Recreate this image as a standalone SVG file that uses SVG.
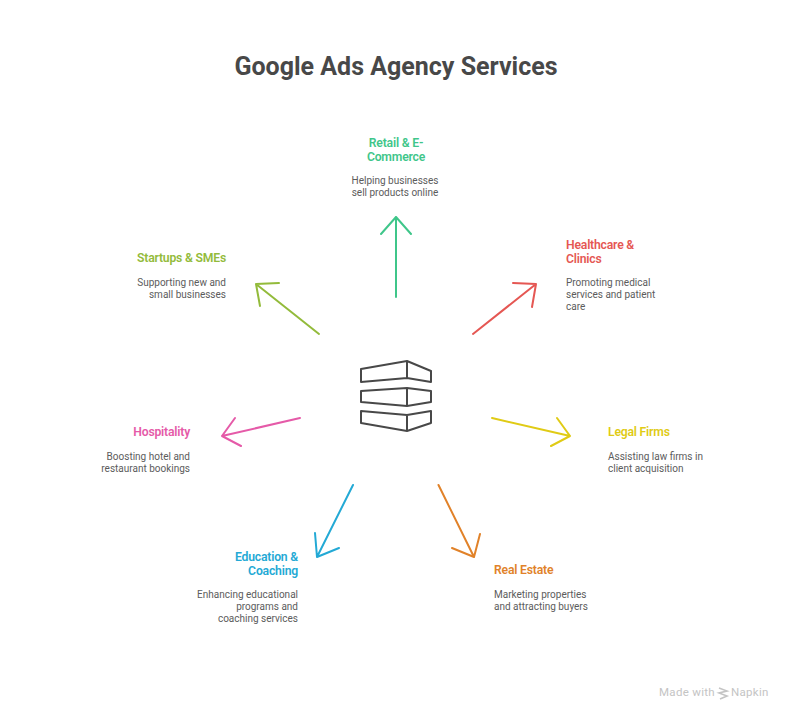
<svg xmlns="http://www.w3.org/2000/svg" width="792" height="720" viewBox="0 0 792 720">
<style>
text{font-family:Roboto,"Liberation Sans",sans-serif}
.t{font-size:25px;font-weight:700;fill:#484848;text-anchor:middle}
.h{font-size:12.2px;font-weight:600;letter-spacing:-.2px}
.d{font-size:10px;fill:#5c5c5c}
.m{text-anchor:middle}.e{text-anchor:end}
.a{fill:none;stroke-width:2;stroke-linecap:round;stroke-linejoin:round}
.i{fill:none;stroke:#484848;stroke-width:2;stroke-linejoin:round}
</style>
<rect width="792" height="720" fill="#fff"/>
<text class="t" x="396" y="75">Google Ads Agency Services</text>
<g id="connectors">
<path class="a" stroke="#3fc68a" d="M396 297V217M381 234L396 217L411 234"/>
<path class="a" stroke="#e55753" d="M473 334L536 284M513 283L536 284L532 307"/>
<path class="a" stroke="#e0cb15" d="M492 418L570 436M557 418L570 436L551 446"/>
<path class="a" stroke="#e18229" d="M438.500 485L474 557M452 548L474 557L480 534"/>
<path class="a" stroke="#23a9d5" d="M353 485L317 557M315 533L317 557L339 548"/>
<path class="a" stroke="#e55aa8" d="M300 418L222 436M235 418L222 436L241 446"/>
<path class="a" stroke="#93bb3b" d="M319 334L256 284M279 283L256 284L260 306"/>
</g>
<g id="center-icon">
<path class="i" d="M361 369L407 361L431 371V382L407 378L361 382ZM407 361V378"/>
<path class="i" d="M361 391L407 388L431 391V402L407 406L361 402ZM407 388V406"/>
<path class="i" d="M361 411L407 415L431 411V423L407 431L361 423ZM407 415V431"/>
</g>
<g id="retail">
<text class="h m" fill="#3fc68a"><tspan x="396" y="146.500">Retail &amp; E-</tspan><tspan x="396" y="161">Commerce</tspan></text>
<text class="d m"><tspan x="395" y="184">Helping businesses</tspan><tspan x="395" y="196">sell products online</tspan></text>
</g>
<g id="healthcare">
<text class="h" fill="#e55753"><tspan x="566" y="249">Healthcare &amp;</tspan><tspan x="566" y="263">Clinics</tspan></text>
<text class="d"><tspan x="566" y="286">Promoting medical</tspan><tspan x="566" y="298">services and patient</tspan><tspan x="566" y="310">care</tspan></text>
</g>
<g id="legal">
<text class="h" fill="#e0cb15" x="608" y="436">Legal Firms</text>
<text class="d"><tspan x="608" y="460">Assisting law firms in</tspan><tspan x="608" y="472">client acquisition</tspan></text>
</g>
<g id="real-estate">
<text class="h" fill="#e18229" x="494" y="574">Real Estate</text>
<text class="d"><tspan x="494" y="598">Marketing properties</tspan><tspan x="494" y="610">and attracting buyers</tspan></text>
</g>
<g id="education">
<text class="h e" fill="#23a9d5"><tspan x="298" y="561">Education &amp;</tspan><tspan x="298" y="575">Coaching</tspan></text>
<text class="d e"><tspan x="298" y="598">Enhancing educational</tspan><tspan x="298" y="610">programs and</tspan><tspan x="298" y="622">coaching services</tspan></text>
</g>
<g id="hospitality">
<text class="h e" fill="#e55aa8" x="190" y="436">Hospitality</text>
<text class="d e"><tspan x="190" y="460">Boosting hotel and</tspan><tspan x="190" y="472">restaurant bookings</tspan></text>
</g>
<g id="startups">
<text class="h e" fill="#93bb3b" x="226" y="262">Startups &amp; SMEs</text>
<text class="d e"><tspan x="226" y="286">Supporting new and</tspan><tspan x="226" y="298">small businesses</tspan></text>
</g>
<g id="watermark">
<text x="659" y="696" font-size="11.5" fill="#c4c4c4" letter-spacing=".3">Made with</text>
<path d="M719 688L727 691L719 693L727 696L720 699" fill="none" stroke="#c4c4c4" stroke-width="1.6"/>
<text x="731" y="696" font-size="11.5" fill="#c4c4c4" letter-spacing=".3">Napkin</text>
</g>
</svg>
